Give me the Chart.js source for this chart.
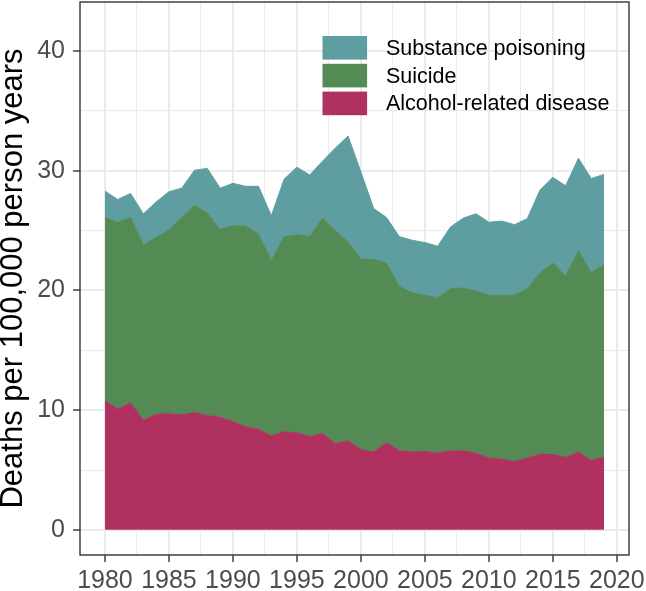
<!DOCTYPE html>
<html>
<head>
<meta charset="utf-8">
<script src="https://cdn.jsdelivr.net/npm/chart.js@4/dist/chart.umd.min.js"></script>
<style>
  html, body { margin: 0; padding: 0; background: #ffffff; }
  canvas { display: block; }
</style>
</head>
<body>
<canvas id="chart" width="646" height="591"></canvas>
<script>
// Stacked area: deaths per 100,000 person years, 1980-2019

const years = [
  1980, 1981, 1982, 1983, 1984, 1985, 1986, 1987, 1988, 1989,
  1990, 1991, 1992, 1993, 1994, 1995, 1996, 1997, 1998, 1999,
  2000, 2001, 2002, 2003, 2004, 2005, 2006, 2007, 2008, 2009,
  2010, 2011, 2012, 2013, 2014, 2015, 2016, 2017, 2018, 2019,
];

const alcohol = [
  10.75, 10.1, 10.6, 9.15, 9.65, 9.7, 9.6, 9.8, 9.55, 9.4,
  9.05, 8.6, 8.4, 7.85, 8.2, 8.1, 7.8, 8.05, 7.2, 7.45,
  6.7, 6.5, 7.3, 6.6, 6.5, 6.55, 6.4, 6.6, 6.6, 6.4,
  6.0, 5.9, 5.7, 6.0, 6.3, 6.3, 6.05, 6.5, 5.8, 6.05,
];

const suicide = [
  15.35, 15.6, 15.5, 14.65, 14.8, 15.35, 16.5, 17.3, 16.9, 15.7,
  16.35, 16.8, 16.3, 14.65, 16.3, 16.55, 16.7, 18.0, 17.8, 16.6,
  15.9, 16.1, 15.0, 13.75, 13.3, 13.05, 13.0, 13.55, 13.6, 13.55,
  13.6, 13.7, 13.9, 14.15, 15.2, 16.0, 15.15, 16.8, 15.7, 16.1,
];

const substance = [
  2.2, 1.9, 2.0, 2.6, 2.95, 3.2, 2.45, 2.95, 3.75, 3.45,
  3.55, 3.3, 4.0, 3.75, 4.8, 5.65, 5.15, 4.75, 6.9, 8.85,
  7.3, 4.25, 3.8, 4.15, 4.4, 4.4, 4.3, 5.15, 5.85, 6.45,
  6.1, 6.2, 5.9, 5.85, 6.9, 7.15, 7.55, 7.75, 7.85, 7.55,
];

const xTicks = [
  1980, 1982.5, 1985, 1987.5, 1990, 1992.5, 1995, 1997.5, 2000,
  2002.5, 2005, 2007.5, 2010, 2012.5, 2015, 2017.5, 2020,
];
const xTickLabels = xTicks.map(v => (v % 5 === 0 ? String(v) : ''));

const yTicks = [0, 5, 10, 15, 20, 25, 30, 35, 40];
const yTickLabels = yTicks.map(v => (v % 10 === 0 ? String(v) : ''));

const FONT = "'Liberation Sans', Arial, sans-serif";
const GRID = '#EBEBEB';
const AXIS = '#333333';

const toPoints = vals => vals.map((v, i) => ({ x: years[i], y: v }));

function area(label, values, color, fill) {
  return {
    label,
    data: toPoints(values),
    backgroundColor: color,
    borderColor: color,
    borderWidth: 1,
    pointRadius: 0,
    pointHoverRadius: 0,
    tension: 0,
    fill,
  };
}

// panel border + legend inside the panel (top right)
const panelAndLegend = {
  id: 'panelAndLegend',
  afterDraw(chart) {
    const { ctx, chartArea: a } = chart;
    ctx.save();
    ctx.strokeStyle = AXIS;
    ctx.lineWidth = 1.4;
    ctx.strokeRect(a.left, a.top, a.right - a.left, a.bottom - a.top);

    const items = chart.data.datasets.slice().reverse();
    const keyX = a.left + 242.5;
    const keyW = 44.6;
    const keyH = 23.6;
    const keyY0 = a.top + 34;
    const step = 27.8;
    ctx.font = '21.5px ' + FONT;
    ctx.textAlign = 'left';
    ctx.textBaseline = 'middle';
    items.forEach((ds, i) => {
      const y = keyY0 + i * step;
      ctx.fillStyle = ds.backgroundColor;
      ctx.fillRect(keyX, y, keyW, keyH);
      ctx.fillStyle = '#000000';
      ctx.fillText(ds.label, keyX + 63.5, y + keyH / 2 + 1);
    });
    ctx.restore();
  },
};

const isMinorX = v => v % 5 !== 0;
const isMinorY = v => v % 10 !== 0;

new Chart(document.getElementById('chart'), {
  type: 'line',
  data: {
    datasets: [
      area('Alcohol-related disease', alcohol, '#B03060', 'origin'),
      area('Suicide', suicide, '#548B54', '-1'),
      area('Substance poisoning', substance, '#5F9EA0', '-1'),
    ],
  },
  options: {
    responsive: false,
    animation: false,
    events: [],
    layout: { padding: { top: 2, right: 17, left: 0, bottom: 0 } },
    plugins: {
      legend: { display: false },
      tooltip: { enabled: false },
    },
    scales: {
      x: {
        type: 'linear',
        min: 1978.05,
        max: 2020.95,
        afterBuildTicks: s => { s.ticks = xTicks.map(v => ({ value: v })); },
        afterFit: s => {
          s.height = 36;
          s.paddingLeft = 0; s.paddingRight = 0;
          s.paddingTop = 0; s.paddingBottom = 0;
        },
        ticks: {
          autoSkip: false,
          maxRotation: 0,
          minRotation: 0,
          padding: 4.5,
          color: '#4D4D4D',
          font: { family: FONT, size: 25 },
          callback: (v, i) => xTickLabels[i],
        },
        grid: {
          color: GRID,
          lineWidth: c => (isMinorX(c.tick.value) ? 1 : 2),
          drawTicks: true,
          tickLength: 7,
          tickColor: c => (isMinorX(c.tick.value) ? 'rgba(0,0,0,0)' : AXIS),
          tickWidth: 1.4,
        },
        border: { display: false },
      },
      y: {
        type: 'linear',
        stacked: true,
        min: -2.1,
        max: 44.1,
        afterBuildTicks: s => { s.ticks = yTicks.map(v => ({ value: v })); },
        afterFit: s => {
          s.width = 80;
          s.paddingLeft = 0; s.paddingRight = 0;
          s.paddingTop = 0; s.paddingBottom = 0;
        },
        ticks: {
          padding: 8,
          color: '#4D4D4D',
          font: { family: FONT, size: 25 },
          callback: (v, i) => yTickLabels[i],
        },
        grid: {
          color: GRID,
          lineWidth: c => (isMinorY(c.tick.value) ? 1 : 2),
          drawTicks: true,
          tickLength: 7,
          tickColor: c => (isMinorY(c.tick.value) ? 'rgba(0,0,0,0)' : AXIS),
          tickWidth: 1.4,
        },
        border: { display: false },
        title: {
          display: true,
          text: 'Deaths per 100,000 person years',
          color: '#000000',
          font: { family: FONT, size: 31, lineHeight: 0.87 },
          padding: { top: 0, bottom: 0 },
        },
      },
    },
  },
  plugins: [panelAndLegend],
});
</script>
</body>
</html>
